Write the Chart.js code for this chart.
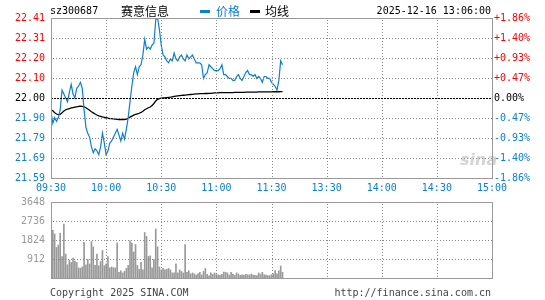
<!DOCTYPE html>
<html>
<head>
<meta charset="utf-8">
<script src="https://cdn.jsdelivr.net/npm/chart.js@4.4.1/dist/chart.umd.min.js"></script>
<style>
  body { margin:0; width:545px; height:300px; background:#fff; position:relative; overflow:hidden; font-family:'DejaVu Sans Mono', monospace; }
  .t { position:absolute; white-space:nowrap; font-size:10px; line-height:12px; z-index:2; }
  .cn { font-family:'Noto Sans CJK SC', sans-serif; font-size:12px; line-height:14px; }
  canvas { position:absolute; left:0; }
  #main { top:0; }
  #vol { top:190px; }
</style>
</head>
<body>
<div class="t" style="left:50px;top:5px;color:#000">sz300687</div>
<div class="t cn" style="left:121px;top:4px;color:#000">赛意信息</div>
<div class="t" style="left:200px;top:10px;width:10px;height:3px;background:#0b80d0"></div>
<div class="t cn" style="left:216px;top:4px;color:#0b80d0">价格</div>
<div class="t" style="left:250px;top:10px;width:10px;height:3px;background:#000"></div>
<div class="t cn" style="left:265px;top:4px;color:#000">均线</div>
<div class="t" style="right:54px;top:5px;color:#000">2025-12-16 13:06:00</div>
<div class="t" style="left:460px;top:150px;font:italic bold 16px 'DejaVu Sans',sans-serif;color:rgba(160,160,160,0.45)">sina</div>
<div class="t" style="left:50px;top:287px;color:#444">Copyright 2025 SINA.COM</div>
<div class="t" style="right:54px;top:287px;color:#444">http://finance.sina.com.cn</div>

<canvas id="main" width="545" height="200"></canvas>
<canvas id="vol" width="545" height="100"></canvas>

<script>
// previous close and +/- range of the price axis
var preClose = 22.00;
var pctRange = 0.0186;

var timeLabels = ["09:30", "10:00", "10:30", "11:00", "11:30", "13:30", "14:00", "14:30", "15:00"];
var priceLabels = ["21.59", "21.69", "21.79", "21.90", "22.00", "22.10", "22.20", "22.31", "22.41"];
var pctLabels = ["-1.86%", "-1.40%", "-0.93%", "-0.47%", "0.00%", "+0.47%", "+0.93%", "+1.40%", "+1.86%"];
var volLabels = ["", "912", "1824", "2736", "3648"];
var volMax = 3648;

// one value per minute, index 0 = 09:30, 120 = 11:30/13:00
var price = [
  21.93, 21.87, 21.90, 21.88, 21.90, 21.94, 22.04, 22.02, 22.00, 21.98,
  22.03, 22.07, 22.02, 22.00, 22.05, 22.06, 22.08, 22.05, 21.94, 21.85,
  21.82, 21.80, 21.75, 21.72, 21.74, 21.73, 21.71, 21.75, 21.82, 21.77,
  21.71, 21.73, 21.77, 21.78, 21.80, 21.82, 21.84, 21.81, 21.78, 21.82,
  21.79, 21.84, 21.90, 21.98, 22.06, 22.13, 22.16, 22.12, 22.16, 22.17,
  22.22, 22.30, 22.25, 22.26, 22.25, 22.27, 22.28, 22.40, 22.41, 22.35,
  22.27, 22.22, 22.21, 22.19, 22.18, 22.20, 22.19, 22.23, 22.20, 22.19,
  22.21, 22.22, 22.20, 22.19, 22.22, 22.20, 22.21, 22.22, 22.20, 22.18,
  22.18, 22.18, 22.17, 22.10, 22.12, 22.13, 22.17, 22.16, 22.15, 22.14,
  22.14, 22.14, 22.15, 22.17, 22.12, 22.12, 22.11, 22.10, 22.10, 22.09,
  22.09, 22.11, 22.12, 22.10, 22.09, 22.11, 22.13, 22.14, 22.12, 22.12,
  22.11, 22.12, 22.10, 22.11, 22.10, 22.08, 22.11, 22.11, 22.10, 22.10,
  22.08, 22.07, 22.06, 22.04, 22.09, 22.19, 22.17
];

var avgPrice = [
  21.940, 21.935, 21.925, 21.918, 21.915, 21.916, 21.925, 21.933, 21.940, 21.943,
  21.946, 21.949, 21.951, 21.953, 21.955, 21.957, 21.958, 21.957, 21.955, 21.950,
  21.944, 21.937, 21.930, 21.924, 21.918, 21.913, 21.909, 21.906, 21.903, 21.901,
  21.899, 21.897, 21.895, 21.894, 21.893, 21.892, 21.891, 21.890, 21.890, 21.890,
  21.890, 21.892, 21.896, 21.902, 21.907, 21.912, 21.916, 21.919, 21.922, 21.926,
  21.932, 21.940, 21.945, 21.950, 21.954, 21.962, 21.972, 21.985, 21.993, 21.997,
  21.999, 22.000, 22.001, 22.002, 22.003, 22.004, 22.006, 22.008, 22.010, 22.011,
  22.012, 22.013, 22.014, 22.015, 22.016, 22.017, 22.018, 22.019, 22.020, 22.021,
  22.021, 22.022, 22.022, 22.022, 22.023, 22.023, 22.024, 22.024, 22.025, 22.026,
  22.026, 22.026, 22.027, 22.027, 22.027, 22.028, 22.028, 22.028, 22.028, 22.028,
  22.029, 22.029, 22.029, 22.029, 22.029, 22.029, 22.030, 22.030, 22.030, 22.030,
  22.030, 22.030, 22.030, 22.031, 22.031, 22.031, 22.031, 22.031, 22.031, 22.031,
  22.031, 22.032, 22.032, 22.032, 22.032, 22.033, 22.033
];

var volume = [
  5200, 2283, 2111, 1465, 1580, 2140, 1034, 2585, 1149, 632,
  862, 747, 962, 818, 747, 488, 460, 531, 1709, 632,
  890, 675, 1752, 1493, 603, 1149, 589, 790, 1321, 589,
  675, 1034, 488, 531, 488, 488, 1680, 273, 345, 244,
  316, 460, 603, 1781, 1680, 1249, 1608, 603, 416, 747,
  388, 2183, 1996, 1034, 1063, 488, 890, 2355, 1493, 531,
  388, 460, 388, 416, 460, 388, 244, 244, 675, 244,
  388, 316, 244, 1608, 273, 345, 201, 244, 201, 144,
  215, 273, 144, 316, 460, 172, 100, 244, 172, 244,
  172, 144, 144, 172, 287, 273, 244, 144, 273, 172,
  129, 244, 187, 129, 158, 144, 172, 158, 144, 187,
  144, 129, 115, 244, 187, 273, 158, 144, 115, 115,
  158, 201, 359, 201, 345, 574, 273
];

var BLUE = "#0b80d0";
var RED = "#ff0000";
var GRID = "#888888";
var monoFont = { family: "'DejaVu Sans Mono', monospace", size: 10 };

function toPoints(arr) {
  return arr.map(function (v, i) { return { x: i, y: v }; });
}

function labelColor(ctx) {
  if (ctx.index < 4) return BLUE;
  if (ctx.index > 4) return RED;
  return "#000";
}

function evenTicks(scale) {
  var out = [];
  for (var k = 0; k <= 8; k++) out.push({ value: scale.min + k * (scale.max - scale.min) / 8 });
  scale.ticks = out;
}

// dotted grid from the scale ticks, dashed previous-close line, box around the plot
var frame = {
  id: "frame",
  afterDatasetsDraw: function (chart, args, opts) {
    var ctx = chart.ctx, a = chart.chartArea;
    var sx = chart.scales.x, sy = chart.scales.y;
    var top = Math.round(a.top), bottom = Math.round(a.bottom);
    var left = Math.round(a.left), right = Math.round(a.right);
    ctx.save();
    ctx.fillStyle = GRID;
    sx.ticks.forEach(function (t, i) {
      var px = Math.round(sx.getPixelForTick(i));
      for (var y = top + 2; y < bottom; y += 3) ctx.fillRect(px, y, 1, 1);
    });
    sy.ticks.forEach(function (t, i) {
      var py = Math.round(sy.getPixelForTick(i));
      if (opts.preClose && Math.abs(t.value - preClose) < 1e-6) {
        ctx.fillStyle = "#000";
        for (var xx = left; xx < right; xx += 3) ctx.fillRect(xx, py, 2, 1);
        ctx.fillStyle = GRID;
        return;
      }
      for (var x = left + 2; x < right; x += 3) ctx.fillRect(x, py, 1, 1);
    });
    ctx.strokeStyle = "#999";
    ctx.lineWidth = 1;
    ctx.strokeRect(left + 0.5, top + 0.5, right - left, bottom - top);
    ctx.restore();
  }
};

function minuteAxis() {
  return {
    type: "linear", min: 0, max: 240, offset: false,
    afterBuildTicks: function (s) {
      s.ticks = timeLabels.map(function (t, k) { return { value: k * 30 }; });
    },
    grid: { display: false, drawTicks: false, offset: false },
    border: { display: false }
  };
}

new Chart(document.getElementById("main"), {
  type: "line",
  data: {
    datasets: [{
      data: toPoints(price),
      borderColor: BLUE,
      borderWidth: 1.2,
      pointRadius: 0
    }, {
      data: toPoints(avgPrice),
      borderColor: "#000",
      borderWidth: 1.3,
      pointRadius: 0
    }]
  },
  options: {
    responsive: false,
    animation: false,
    layout: { padding: { top: 18 } },
    plugins: { legend: { display: false }, tooltip: { enabled: false }, frame: { preClose: true } },
    scales: {
      x: Object.assign(minuteAxis(), {
        ticks: {
          color: BLUE, font: monoFont, padding: 4, maxRotation: 0, autoSkip: false,
          callback: function (v, idx) { return timeLabels[idx]; }
        },
        afterFit: function (s) { s.height = 22; }
      }),
      y: {
        position: "left",
        min: preClose * (1 - pctRange), max: preClose * (1 + pctRange),
        afterBuildTicks: evenTicks,
        ticks: {
          color: labelColor, font: monoFont, padding: 6,
          callback: function (v, idx) { return priceLabels[idx]; }
        },
        grid: { display: false, drawTicks: false },
        border: { display: false },
        afterFit: function (s) { s.width = 51; }
      },
      y2: {
        position: "right",
        min: preClose * (1 - pctRange), max: preClose * (1 + pctRange),
        afterBuildTicks: evenTicks,
        ticks: {
          color: labelColor, font: monoFont, padding: 2,
          callback: function (v, idx) { return pctLabels[idx]; }
        },
        grid: { display: false, drawTicks: false },
        border: { display: false },
        afterFit: function (s) { s.width = 53; }
      }
    }
  },
  plugins: [frame]
});

new Chart(document.getElementById("vol"), {
  type: "bar",
  data: {
    datasets: [{
      data: toPoints(volume),
      backgroundColor: "#999999",
      barThickness: 1,
      grouped: false
    }]
  },
  options: {
    responsive: false,
    animation: false,
    layout: { padding: { top: 11, bottom: 4, right: 53 } },
    plugins: { legend: { display: false }, tooltip: { enabled: false }, frame: { preClose: false } },
    scales: {
      x: Object.assign(minuteAxis(), {
        ticks: { display: false },
        afterFit: function (s) { s.height = 0; }
      }),
      y: {
        position: "left",
        min: 0, max: volMax,
        afterBuildTicks: function (s) {
          s.ticks = volLabels.map(function (t, k) { return { value: k * volMax / 4 }; });
        },
        ticks: {
          color: "#999", font: monoFont, padding: 6,
          callback: function (v, idx) { return volLabels[idx]; }
        },
        grid: { display: false, drawTicks: false },
        border: { display: false },
        afterFit: function (s) { s.width = 51; }
      }
    }
  },
  plugins: [frame]
});
</script>
</body>
</html>
